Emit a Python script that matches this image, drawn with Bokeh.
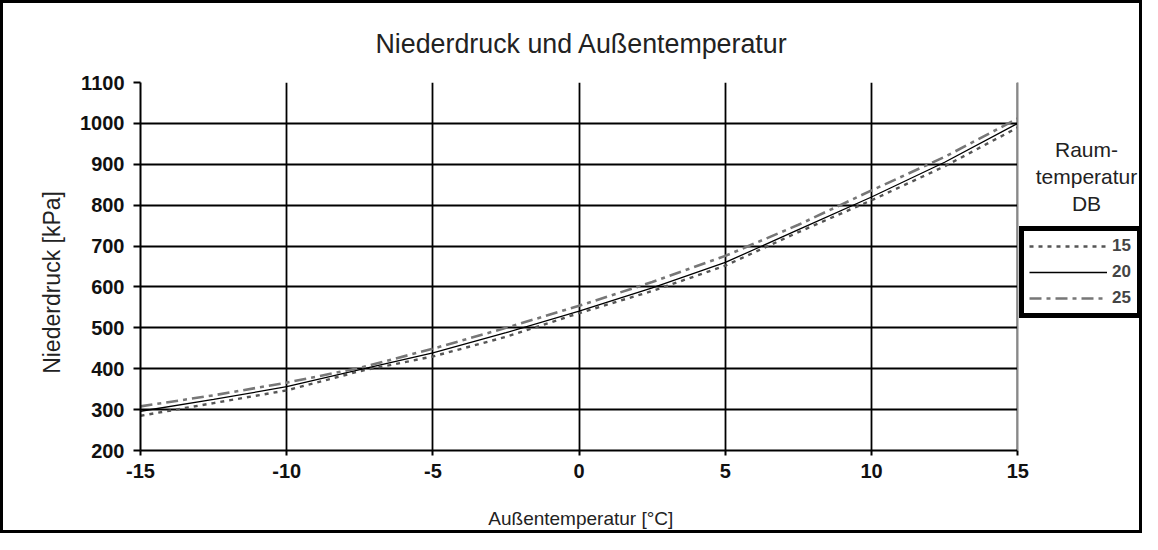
from bokeh.plotting import figure
from bokeh.models import (Range1d, Legend, LegendItem, Label, FixedTicker,
                          BoxAnnotation, Span)
from bokeh.embed import file_html
from bokeh.resources import INLINE

# ---- data ----
x_temp = [-15, -12.5, -10, -7.5, -5, -2.5, 0, 2.5, 5, 7.5, 10, 12.5, 15]
p_15 = [285, 316, 347, 394, 430, 478, 536, 590, 652, 734, 812, 895, 990]
p_20 = [296, 325, 356, 398, 439, 488, 541, 598, 660, 740, 820, 905, 1000]
p_25 = [308, 335, 366, 402, 449, 500, 554, 612, 676, 752, 836, 918, 1012]
series_labels = ["15", "20", "25"]
x_ticks = [-15, -10, -5, 0, 5, 10, 15]
y_ticks = [200, 300, 400, 500, 600, 700, 800, 900, 1000, 1100]
title_text = "Niederdruck  und Außentemperatur"
x_label = "Außentemperatur [°C]"
y_label = "Niederdruck [kPa]"
legend_title = ["Raum-", "temperatur", "DB"]

FONT = "Liberation Sans"
TXT = "#222222"
NBSP = "\u00a0"
X_MIN, X_MAX = x_ticks[0], x_ticks[-1]
X_VIEW_END = X_MIN + (X_MAX - X_MIN) * 996 / 872   # extra room right of the data for the legend

p = figure(width=1142, height=533, output_backend="svg", toolbar_location=None,
           x_range=Range1d(X_MIN, X_VIEW_END), y_range=Range1d(y_ticks[0], y_ticks[-1]),
           min_border_left=137, min_border_right=3,
           min_border_top=75, min_border_bottom=86)
p.styles = {"border": "3px solid black"}
p.background_fill_color = "white"
p.border_fill_color = "white"
p.outline_line_color = None

p.title.text = title_text
p.title.align = "left"
p.title.offset = 235
p.title.text_font = FONT
p.title.text_font_size = "26.8px"
p.title.text_font_style = "normal"
p.title.text_color = TXT
p.title.standoff = 47

for ax in (p.xaxis[0], p.yaxis[0]):
    ax.axis_line_color = "black"
    ax.axis_line_width = 2
    ax.major_tick_line_color = "black"
    ax.major_tick_line_width = 2
    ax.major_tick_in = 0
    ax.minor_tick_line_color = None
    ax.major_label_text_font = FONT
    ax.major_label_text_font_style = "bold"
    ax.major_label_text_font_size = "20px"
    ax.major_label_text_color = "#111111"
    ax.axis_label_text_font = FONT
    ax.axis_label_text_font_style = "normal"
    ax.axis_label_text_color = TXT

p.xaxis.ticker = FixedTicker(ticks=x_ticks)
p.xaxis.bounds = (X_MIN, X_MAX)
p.xaxis.major_label_overrides = {t: str(t) for t in x_ticks}
# the axis label is centred on the whole frame; pad it so it sits under the data area
p.xaxis.axis_label = x_label + NBSP * 23
p.xaxis.axis_label_text_font_size = "19px"
p.xaxis.axis_label_standoff = 27
p.xaxis.major_tick_out = 5
p.xaxis.major_label_standoff = 8
p.yaxis.ticker = FixedTicker(ticks=y_ticks)
p.yaxis.bounds = (y_ticks[0], y_ticks[-1])
p.yaxis.axis_label = y_label + NBSP * 5
p.yaxis.axis_label_text_font_size = "23px"
p.yaxis.major_tick_out = 7
p.yaxis.major_label_standoff = 9
p.yaxis.axis_label_standoff = 12

p.xgrid.ticker = FixedTicker(ticks=x_ticks)
p.ygrid.ticker = FixedTicker(ticks=y_ticks)
for g in (p.xgrid[0], p.ygrid[0]):
    g.grid_line_color = "black"
    g.grid_line_width = 1.8
    g.grid_line_alpha = 1.0

STYLES = {
    "15": dict(line_color="#555555", line_width=2.4, line_dash="4 5"),
    "20": dict(line_color="black", line_width=1.3),
    "25": dict(line_color="#777777", line_width=2.6, line_dash="12 5 4 5"),
}
rends = [p.line(x_temp, ys, **STYLES[lab])
         for lab, ys in zip(series_labels, [p_15, p_20, p_25])]

# blank the area right of the plot frame and draw its right edge
p.add_layout(BoxAnnotation(left=X_MAX, fill_color="white", fill_alpha=1.0,
                           line_color=None))
p.add_layout(Span(location=X_MAX, dimension="height", line_color="#888888",
                  line_width=1.5))

legend = Legend(items=[LegendItem(label=lab, renderers=[r])
                       for lab, r in zip(series_labels, rends)],
                location=(879, 132))
legend.border_line_color = "black"
legend.border_line_alpha = 1.0
legend.border_line_width = 5
legend.background_fill_color = "white"
legend.background_fill_alpha = 1.0
legend.label_text_font = FONT
legend.label_text_font_style = "bold"
legend.label_text_font_size = "17px"
legend.glyph_width = 78
legend.glyph_height = 20
legend.label_height = 20
legend.label_standoff = 5
legend.spacing = 6
legend.padding = 5
legend.margin = 0
p.add_layout(legend, "center")

for txt, yv in zip(legend_title, [936, 871, 804]):
    p.add_layout(Label(x=17.35, y=yv, text=txt, text_align="center",
                       text_baseline="middle", text_font=FONT,
                       text_font_size="21px", text_color=TXT))

open("out.html", "w").write(file_html(p, INLINE))
